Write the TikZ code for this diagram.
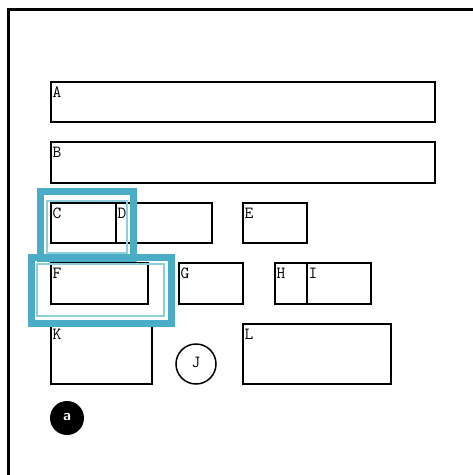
\documentclass[tikz,border=0pt]{standalone}
\usepackage{tikz}
\usetikzlibrary{positioning}
\definecolor{hlteal}{HTML}{4BACC6}
\definecolor{hllight}{HTML}{8ECFDD}

\begin{document}
\begin{tikzpicture}[
  x=1pt, y=-1pt,
  cell/.style={draw, line width=2pt, anchor=north west, inner sep=0pt, outer sep=0pt},
  lbl/.style={anchor=north west, inner xsep=1.5pt, inner ysep=4.5pt, font=\fontsize{17}{18}\ttfamily\selectfont},
  hlthick/.style={draw=hlteal, line width=7pt},
  hlthin/.style={draw=hllight, line width=2pt},
  roundj/.style={circle, draw, line width=1.5pt, minimum size=40pt, inner sep=0pt, font=\fontsize{17}{18}\ttfamily\selectfont},
  badge/.style={circle, fill=black, minimum size=34pt, inner sep=0pt, text=white, font=\fontsize{15}{16}\sffamily\bfseries}
]
\useasboundingbox (0,0) rectangle (473,475);
% outer frame
\draw[line width=3pt] (8,477) -- (8,9) -- (475,9);

% rows of cells
\node[cell, minimum width=384pt, minimum height=40pt, label={[lbl]north west:A}] (A) at (51,82) {};
\node[cell, minimum width=384pt, minimum height=41pt, label={[lbl]north west:B}] (B) at (51,142) {};
\node[cell, minimum width=65pt, minimum height=40pt, label={[lbl]north west:C}] (C) at (51,203) {};
\node[cell, minimum width=96pt, minimum height=40pt, label={[lbl]north west:D}] (D) at (116,203) {};
\node[cell, minimum width=64pt, minimum height=40pt, label={[lbl]north west:E}] (E) at (243,203) {};
\node[cell, minimum width=97pt, minimum height=41pt, label={[lbl]north west:F}] (F) at (51,263) {};
\node[cell, minimum width=64pt, minimum height=41pt, label={[lbl]north west:G}] (G) at (179,263) {};
\node[cell, minimum width=32pt, minimum height=41pt, label={[lbl]north west:H}] (H) at (275,263) {};
\node[cell, minimum width=64pt, minimum height=41pt, label={[lbl]north west:I}] (I) at (307,263) {};
\node[cell, minimum width=101pt, minimum height=60pt, label={[lbl]north west:K}] (K) at (51,324) {};
\node[cell, minimum width=148pt, minimum height=60pt, label={[lbl]north west:L}] (L) at (243,324) {};
\node[roundj] (J) at (196,364) {\raisebox{4pt}{J}};
\node[badge] (a) at (67,418) {\raisebox{2pt}{a}};

% highlights
\draw[hlthick] (40.5,191.5) rectangle (133.5,258.5);
\draw[hlthin] (47,201) rectangle (127,253);
\draw[hlthick] (31,257) rectangle (171,323);
\draw[hlthin] (37,264) rectangle (164,316);
\end{tikzpicture}
\end{document}
